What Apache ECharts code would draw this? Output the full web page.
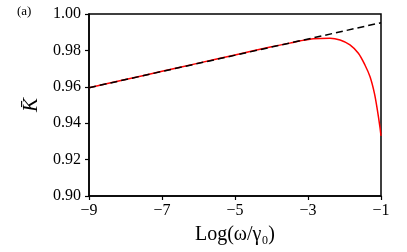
<!DOCTYPE html>
<html><head><meta charset="utf-8">
<script src="https://cdn.jsdelivr.net/npm/echarts@6/dist/echarts.min.js"></script>
<style>html,body{margin:0;padding:0;background:#fff}#c{width:407px;height:252px}</style>
</head><body><div id="c"></div>
<script>
const xTicks = [-9, -7, -5, -3, -1];
const yTicks = [0.90, 0.92, 0.94, 0.96, 0.98, 1.00];
const dashedX = [-9, -1];
const dashedY = [0.9595, 0.9952];
const redX = [-9, -8, -7, -6, -5, -4, -3.5, -3.2, -2.85, -2.4, -2.12, -1.85, -1.62, -1.44, -1.3, -1.18, -1.1, -1.03, -1];
const redY = [0.9595, 0.964, 0.9685, 0.973, 0.9775, 0.982, 0.984, 0.9853, 0.9864, 0.9867, 0.9857, 0.983, 0.9784, 0.972, 0.9655, 0.9564, 0.9473, 0.938, 0.933];
const font = '"Liberation Serif", "DejaVu Serif", serif';
const chart = echarts.init(document.getElementById('c'), null, {renderer: 'canvas'});
const fmtMinus = v => (v < 0 ? '\u2212' + Math.abs(v) : String(v));
chart.setOption({
  animation: false,
  grid: {left: 89, right: 26, top: 14, bottom: 56, show: true, borderColor: '#000', borderWidth: 1.5, backgroundColor: 'transparent'},
  xAxis: {
    type: 'value', min: -9, max: -1,
    name: 'Log(\u03C9/\u03B3\u2080)', nameLocation: 'middle', nameGap: 29,
    nameTextStyle: {fontFamily: font, fontSize: 20, color: '#000'},
    axisLine: {show: true, lineStyle: {color: '#000', width: 1.5}},
    axisTick: {show: true, length: 4, inside: false, customValues: xTicks, lineStyle: {color: '#000', width: 1.2}},
    axisLabel: {customValues: xTicks, formatter: fmtMinus, margin: 7, fontFamily: font, fontSize: 16, color: '#000'},
    splitLine: {show: false}
  },
  yAxis: {
    type: 'value', min: 0.90, max: 1.00, interval: 0.02,
    name: 'K\u0304', nameLocation: 'middle', nameGap: 46, nameRotate: 90,
    nameTextStyle: {fontFamily: font, fontSize: 21, fontStyle: 'italic', color: '#000'},
    axisLine: {show: true, lineStyle: {color: '#000', width: 1.5}},
    axisTick: {show: true, length: 4, lineStyle: {color: '#000', width: 1.2}},
    axisLabel: {formatter: v => v.toFixed(2), margin: 8, fontFamily: font, fontSize: 16, color: '#000'},
    splitLine: {show: false}
  },
  graphic: [{type: 'text', left: 17, top: 5, style: {text: '(a)', font: '13px ' + font, fill: '#000'}}],
  series: [
    {type: 'line', data: redX.map((x, i) => [x, redY[i]]), smooth: 0.3, showSymbol: false, lineStyle: {color: '#ff0000', width: 1.5}, z: 2},
    {type: 'line', data: dashedX.map((x, i) => [x, dashedY[i]]), showSymbol: false, lineStyle: {color: '#000', width: 1.5, type: [7, 4]}, z: 3}
  ]
});
</script></body></html>
